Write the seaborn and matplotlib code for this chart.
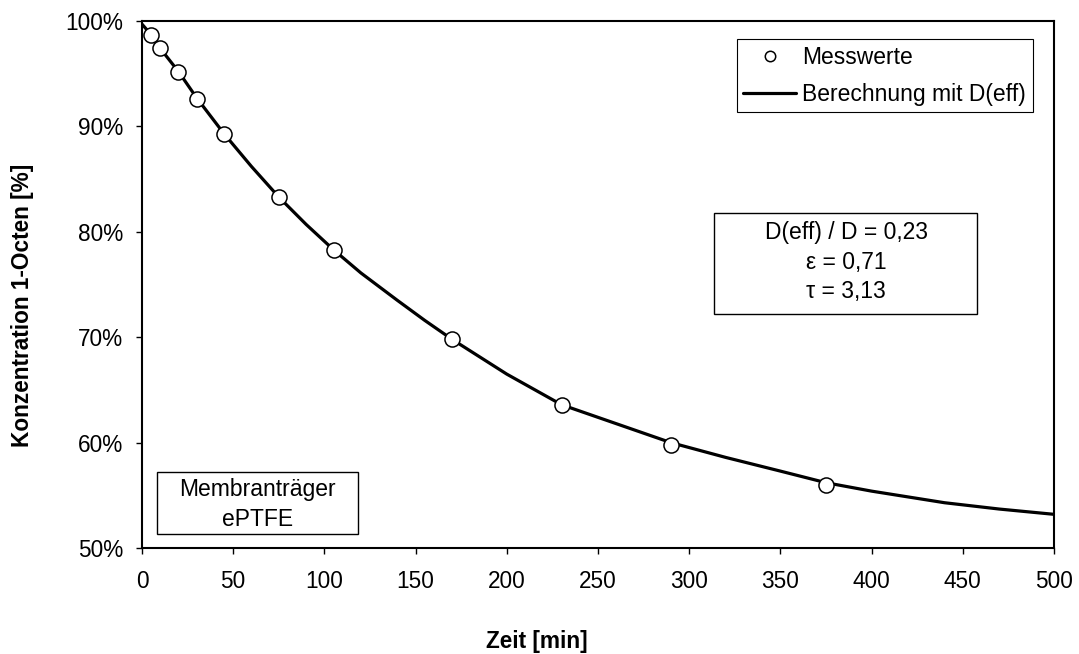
import matplotlib
matplotlib.use("Agg")
import matplotlib.pyplot as plt
import matplotlib.ticker as mticker
from matplotlib.lines import Line2D
from matplotlib.patches import Rectangle
import seaborn as sns
import pandas as pd

# Measured values (Messwerte)
mess_zeit = [5, 10, 20, 30, 45, 75, 105, 170, 230, 290, 375]
mess_konz = [98.7, 97.4, 95.2, 92.6, 89.3, 83.3, 78.3, 69.8, 63.6, 59.8, 56.0]

# Calculated curve (Berechnung mit D(eff))
calc_zeit = [0, 5, 10, 20, 30, 45, 60, 75, 90, 105, 120, 140, 155, 170, 200,
             230, 250, 270, 290, 320, 350, 375, 400, 440, 470, 500]
calc_konz = [99.7, 98.7, 97.4, 95.2, 92.7, 89.3, 86.2, 83.3, 80.7, 78.3, 76.1,
             73.5, 71.6, 69.8, 66.5, 63.6, 62.4, 61.2, 60.0, 58.6, 57.3, 56.2,
             55.4, 54.3, 53.7, 53.2]

x_ticks = [0, 50, 100, 150, 200, 250, 300, 350, 400, 450, 500]
y_ticks = [50, 60, 70, 80, 90, 100]

x_label = "Zeit [min]"
y_label = "Konzentration 1-Octen [%]"
legend_labels = ["Messwerte", "Berechnung mit D(eff)"]
param_lines = ["D(eff) / D = 0,23", "ε = 0,71", "τ = 3,13"]
carrier_lines = ["Membranträger", "ePTFE"]

df_mess = pd.DataFrame({"Zeit": mess_zeit, "Konz": mess_konz})
df_calc = pd.DataFrame({"Zeit": calc_zeit, "Konz": calc_konz})

sns.set_style("ticks")
plt.rcParams["font.family"] = ["Liberation Sans", "DejaVu Sans"]
plt.rcParams["text.color"] = "black"
plt.rcParams["axes.labelcolor"] = "black"
plt.rcParams["xtick.color"] = "black"
plt.rcParams["ytick.color"] = "black"

fig = plt.figure(figsize=(10.79, 6.54), dpi=100)
ax = fig.add_axes([0.1316, 0.162, 0.8452, 0.8059])

sns.lineplot(data=df_calc, x="Zeit", y="Konz", ax=ax, color="black",
             linewidth=2.3, zorder=2)
sns.scatterplot(data=df_mess, x="Zeit", y="Konz", ax=ax, s=118,
                facecolor="white", edgecolor="black", linewidth=1.1,
                zorder=3)

ax.set_xlim(0, 500)
ax.set_ylim(50, 100)
ax.set_xticks(x_ticks)
ax.set_yticks(y_ticks)
ax.yaxis.set_major_formatter(mticker.FuncFormatter(lambda v, p: f"{v:.0f}%"))
ax.tick_params(axis="both", direction="out", length=4.5, width=1,
               labelsize=16.3, colors="black", labelcolor="black")
ax.tick_params(axis="x", pad=11)
ax.tick_params(axis="y", pad=9)

for sp in ax.spines.values():
    sp.set_visible(True)
    sp.set_color("black")
    sp.set_linewidth(1.5)

ax.set_xlabel(x_label, fontsize=16.3, fontweight="bold", va="center", color="black")
ax.set_ylabel(y_label, fontsize=16.3, fontweight="bold", va="center", color="black")
ax.xaxis.set_label_coords(0.4326, -0.1765)
ax.yaxis.set_label_coords(-0.1305, 0.461)

handles = [
    Line2D([], [], marker="o", linestyle="none", markersize=7.5,
           markerfacecolor="white", markeredgecolor="black", markeredgewidth=1.1),
    Line2D([], [], color="black", linewidth=2.3),
]
leg = ax.legend(handles, legend_labels, loc="upper right",
                bbox_to_anchor=(0.977, 0.966), borderaxespad=0, fontsize=16.5,
                frameon=True, fancybox=False, framealpha=1, edgecolor="black",
                handlelength=2.3, handletextpad=0.27, labelspacing=0.6,
                borderpad=0.3)
leg.get_frame().set_linewidth(0.8)
for t in leg.get_texts():
    t.set_color("black")

# Parameter box
ax.add_patch(Rectangle((0.627, 0.444), 0.2886, 0.1917, transform=ax.transAxes,
                       fill=True, facecolor="white", edgecolor="black",
                       linewidth=1.0, zorder=4))
for txt, yy in zip(param_lines, [0.5996, 0.5427, 0.4877]):
    ax.text(0.772, yy, txt, transform=ax.transAxes, ha="center", va="center",
            fontsize=16.5, color="black", zorder=5)

# Carrier box
ax.add_patch(Rectangle((0.0164, 0.0266), 0.2204, 0.1176, transform=ax.transAxes,
                       fill=True, facecolor="white", edgecolor="black",
                       linewidth=1.0, zorder=4))
for txt, yy in zip(carrier_lines, [0.112, 0.055]):
    ax.text(0.127, yy, txt, transform=ax.transAxes, ha="center", va="center",
            fontsize=16.5, color="black", zorder=5)

fig.savefig("out.png", dpi=100)
